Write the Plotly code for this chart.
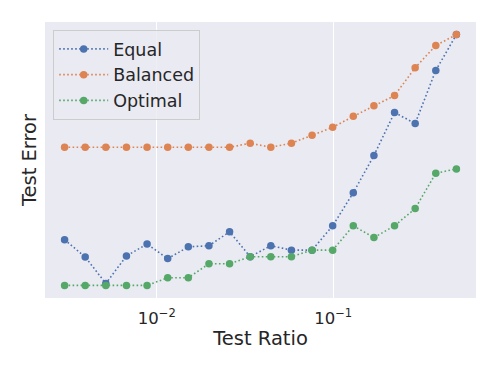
import numpy as np
import plotly.graph_objects as go

# test ratios: 20 log-spaced points
ratios = np.geomspace(0.003, 0.5, 20)

err_equal = [0.208, 0.145, 0.048, 0.149, 0.192, 0.139, 0.182, 0.186, 0.237, 0.146,
             0.186, 0.170, 0.170, 0.259, 0.380, 0.516, 0.673, 0.633, 0.827, 0.958]
err_balanced = [0.546, 0.546, 0.546, 0.546, 0.546, 0.546, 0.546, 0.546, 0.546, 0.561,
                0.546, 0.561, 0.590, 0.619, 0.659, 0.698, 0.735, 0.837, 0.918, 0.958]
err_optimal = [0.041, 0.041, 0.041, 0.041, 0.041, 0.069, 0.069, 0.120, 0.120, 0.146,
               0.146, 0.146, 0.170, 0.170, 0.259, 0.216, 0.259, 0.322, 0.451, 0.467]

series = [('Equal', err_equal, '#4c72b0'),
          ('Balanced', err_balanced, '#dd8452'),
          ('Optimal', err_optimal, '#55a868')]

fig = go.Figure()
for name, vals, col in series:
    fig.add_trace(go.Scatter(x=ratios, y=vals, name=name, mode='lines+markers',
                             line=dict(color=col, width=1.6, dash='1.6px,2.4px'),
                             marker=dict(color=col, size=7.5)))

lx = np.log10(ratios)
span = lx[-1] - lx[0]
# page body has an 8px margin, so the figure is made 8px smaller and margins trimmed
fig.update_layout(
    width=490, height=366,
    margin=dict(l=37, r=22, t=14, b=76),
    paper_bgcolor='white', plot_bgcolor='#eaeaf2',
    font=dict(family='DejaVu Sans', color='#262626'),
    xaxis=dict(type='log', range=[lx[0] - 0.05 * span, lx[-1] + 0.05 * span],
               tickvals=[0.01, 0.1], ticktext=['10<sup>−2</sup>', '10<sup>−1</sup>'],
               tickfont=dict(size=16.5), showgrid=True, gridcolor='white', gridwidth=1.2,
               zeroline=False, showline=False, ticks='', automargin=False,
               ticklabelstandoff=8,
               title=dict(text='Test Ratio', font=dict(size=19.5), standoff=4)),
    yaxis=dict(range=[-0.005, 1.004], showticklabels=False, showgrid=False,
               zeroline=False, showline=False, ticks='', automargin=False,
               title=dict(text='Test Error', font=dict(size=19.5), standoff=2)),
    legend=dict(x=0.019, y=0.971, xanchor='left', yanchor='top',
                bgcolor='rgba(234,234,242,0.8)', bordercolor='#cccccc', borderwidth=1,
                font=dict(size=17.5), itemwidth=49, tracegroupgap=2),
    showlegend=True,
)

fig.write_html("out.html")
